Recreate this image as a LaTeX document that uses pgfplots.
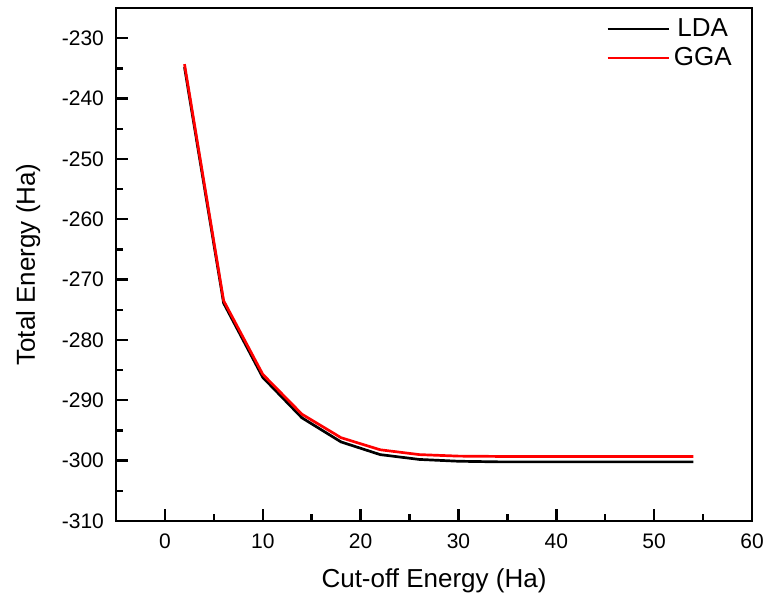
\documentclass[border=0pt]{standalone}
\usepackage{pgfplots}
\pgfplotsset{compat=1.18}
\usepackage{fontspec}
\setmainfont{Liberation Sans}
\begin{document}
\begin{tikzpicture}
\begin{axis}[
  scale only axis,
  width=318pt, height=256.5pt,
  xmin=-5, xmax=60, ymin=-310, ymax=-225,
  xtick={0,10,...,60}, ytick={-310,-300,...,-230},
  minor x tick num=1, minor y tick num=1,
  xtick pos=bottom, ytick pos=left,
  tick align=inside,
  major tick length=6pt, minor tick length=3.5pt,
  tick style={black, line width=1.2pt},
  axis line style={line width=1.2pt},
  /pgf/number format/assume math mode=true,
  /pgf/number format/.cd, set thousands separator={}, /pgfplots/.cd,
  tick label style={font=\fontsize{10.5}{12}\selectfont},
  xticklabel style={yshift=-3pt},
  yticklabel style={xshift=-2.5pt},
  xlabel={Cut-off Energy (Ha)}, ylabel={Total Energy (Ha)},
  label style={font=\fontsize{13}{15}\selectfont},
  xlabel style={yshift=-3pt},
  ylabel style={yshift=4pt},
  legend style={draw=none, fill=none, at={(1,1)}, anchor=north east,
    xshift=-5pt, yshift=-1pt,
    font=\fontsize{13}{15}\selectfont, row sep=0pt},
  legend image code/.code={\draw[#1, line width=1.3pt] (0cm,0cm) -- (30.5pt,0cm);},
]
\addplot[black, line width=1.35pt] coordinates {
(2,-234.8) (6,-273.9) (10,-286.2) (14,-292.9) (18,-296.9) (22,-299.0) (26,-299.8) (30,-300.1) (34,-300.2) (38,-300.2) (42,-300.2) (46,-300.2) (50,-300.2) (54,-300.2)
};
\addlegendentry{LDA}
\addplot[red, line width=1.35pt] coordinates {
(2,-234.3) (6,-273.5) (10,-285.7) (14,-292.3) (18,-296.2) (22,-298.2) (26,-299.0) (30,-299.25) (34,-299.3) (38,-299.3) (42,-299.3) (46,-299.3) (50,-299.3) (54,-299.3)
};
\addlegendentry{GGA}
\end{axis}
\pgfresetboundingbox
\useasboundingbox ([xshift=-58pt,yshift=-38.5pt]current axis.south west) rectangle ([xshift=6.5pt,yshift=4pt]current axis.north east);
\end{tikzpicture}
\end{document}
